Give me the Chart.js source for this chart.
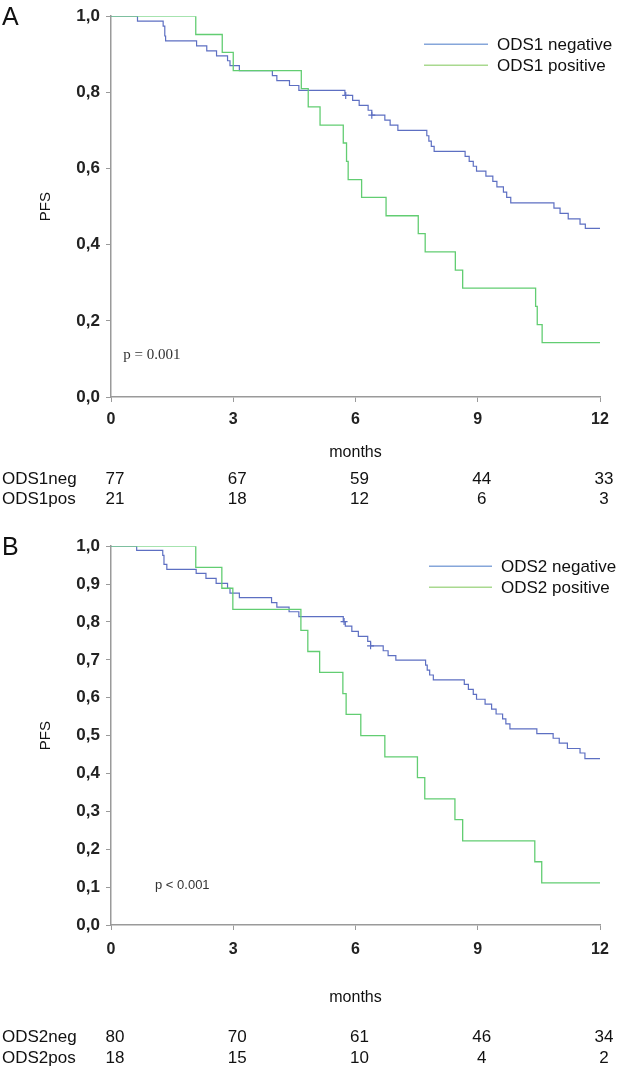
<!DOCTYPE html>
<html><head><meta charset="utf-8">
<script src="https://cdn.jsdelivr.net/npm/chart.js@4.4.0/dist/chart.umd.min.js"></script>
<style>
html,body{margin:0;padding:0;background:#fff;}
body{width:620px;height:1075px;position:relative;overflow:hidden;}
.panel{position:absolute;left:0;width:620px;}
#pa{top:0;height:530px;}
#pb{top:530px;height:545px;}
</style></head><body>
<div class="panel" id="pa"><canvas id="ca"></canvas></div>
<div class="panel" id="pb"><canvas id="cb"></canvas></div>
<script>
// ---------- data ----------
const monthTicks = [0, 3, 6, 9, 12];

// Panel A
const ods1NegTime = [0, 0.65, 1.28, 1.32, 1.34, 2.10, 2.35, 2.59, 2.86, 2.92, 3.15, 3.96, 4.07, 4.38, 4.61, 5.74, 5.93, 6.09, 6.31, 6.40, 6.72, 6.85, 7.04, 7.75, 7.80, 7.86, 7.93, 8.69, 8.79, 8.89, 8.97, 9.20, 9.37, 9.47, 9.63, 9.71, 9.81, 10.87, 11.02, 11.22, 11.51, 11.64, 12];
const ods1NegPFS  = [1, 0.987, 0.974, 0.948, 0.935, 0.922, 0.909, 0.896, 0.883, 0.870, 0.857, 0.844, 0.831, 0.818, 0.805, 0.792, 0.779, 0.766, 0.753, 0.740, 0.727, 0.714, 0.700, 0.686, 0.672, 0.658, 0.645, 0.632, 0.619, 0.606, 0.593, 0.580, 0.566, 0.552, 0.538, 0.524, 0.510, 0.496, 0.482, 0.468, 0.454, 0.443, 0.443];
const ods1PosTime = [0, 2.08, 2.73, 3.00, 4.67, 4.84, 5.13, 5.70, 5.78, 5.82, 6.15, 6.75, 7.54, 7.71, 8.45, 8.63, 10.42, 10.46, 10.58, 12];
const ods1PosPFS  = [1, 0.952, 0.905, 0.857, 0.810, 0.762, 0.714, 0.667, 0.619, 0.571, 0.524, 0.476, 0.429, 0.381, 0.333, 0.286, 0.238, 0.190, 0.143, 0.143];
const ods1NegCensorTime = [5.76, 6.40];
const ods1NegCensorPFS  = [0.792, 0.740];
const riskA_labels = ['ODS1neg', 'ODS1pos'];
const riskA_neg = [77, 67, 59, 44, 33];
const riskA_pos = [21, 18, 12, 6, 3];

// Panel B
const ods2NegTime = [0, 0.63, 1.27, 1.30, 1.37, 2.09, 2.33, 2.58, 2.86, 2.92, 3.15, 3.94, 4.07, 4.37, 4.61, 5.70, 5.75, 5.91, 6.07, 6.30, 6.37, 6.68, 6.80, 6.99, 7.72, 7.76, 7.82, 7.91, 8.67, 8.77, 8.89, 8.97, 9.18, 9.34, 9.45, 9.61, 9.69, 9.79, 10.45, 10.85, 11.00, 11.20, 11.51, 11.63, 12];
const ods2NegPFS  = [1, 0.989, 0.976, 0.952, 0.939, 0.928, 0.915, 0.902, 0.889, 0.876, 0.864, 0.851, 0.839, 0.827, 0.814, 0.801, 0.789, 0.775, 0.762, 0.749, 0.737, 0.724, 0.711, 0.699, 0.686, 0.673, 0.660, 0.647, 0.635, 0.622, 0.609, 0.596, 0.583, 0.570, 0.557, 0.544, 0.531, 0.518, 0.505, 0.493, 0.480, 0.466, 0.454, 0.439, 0.439];
const ods2PosTime = [0, 2.08, 2.72, 2.99, 4.66, 4.83, 5.12, 5.69, 5.77, 6.13, 6.72, 7.52, 7.70, 8.44, 8.63, 10.40, 10.57, 12];
const ods2PosPFS  = [1, 0.944, 0.889, 0.833, 0.778, 0.722, 0.667, 0.611, 0.556, 0.500, 0.444, 0.389, 0.333, 0.278, 0.222, 0.167, 0.111, 0.111];
const ods2NegCensorTime = [5.72, 6.37];
const ods2NegCensorPFS  = [0.801, 0.737];
const riskB_labels = ['ODS2neg', 'ODS2pos'];
const riskB_neg = [80, 70, 61, 46, 34];
const riskB_pos = [18, 15, 10, 4, 2];

// ---------- styling ----------
const FF = '"Liberation Sans", Arial, sans-serif';
const BLUE = '#5d6fc2';
const GREEN = '#62cd72';
const BLUE_LEG = '#86a6da';
const GREEN_LEG = '#a9d98f';
const AXIS = '#9a9a9a';

const pts = (t, v) => t.map((tt, i) => ({x: tt, y: v[i]}));

const extras = {
  id: 'extras',
  afterDraw(chart, args, o) {
    const {ctx, chartArea: ca, scales: {x, y}} = chart;
    ctx.save();
    ctx.textBaseline = 'middle';
    ctx.textAlign = 'left';
    ctx.fillStyle = '#111';
    ctx.font = '25px ' + FF;
    ctx.fillText(o.letter, 2, ca.top + 2);
    // legend
    ctx.font = '17px ' + FF;
    o.legend.forEach((it, i) => {
      const yy = ca.top + o.legendDY + i * 21;
      ctx.strokeStyle = it.color; ctx.lineWidth = 1.4;
      ctx.beginPath(); ctx.moveTo(o.legendX1, yy); ctx.lineTo(o.legendX2, yy); ctx.stroke();
      ctx.fillStyle = '#111';
      ctx.fillText(it.text, o.legendTX, yy + 1);
    });
    // p value
    ctx.font = o.pFont; ctx.fillStyle = '#333';
    ctx.fillText(o.pText, x.getPixelForValue(o.pAt[0]), y.getPixelForValue(o.pAt[1]));
    // number at risk
    ctx.font = '17px ' + FF; ctx.fillStyle = '#111';
    o.risk.forEach((row, i) => {
      const yy = ca.bottom + o.riskDY + i * o.riskGap;
      ctx.textAlign = 'left';
      ctx.fillText(row.label, 2, yy);
      ctx.textAlign = 'center';
      row.values.forEach((v, j) => ctx.fillText(String(v), x.getPixelForValue(monthTicks[j]) + 4, yy));
    });
    ctx.restore();
  }
};

function makeChart(id, cfg) {
  const datasets = [
    {label: cfg.negLabel, data: pts(cfg.negT, cfg.negV), borderColor: BLUE, borderWidth: 1.2, stepped: 'before', pointRadius: 0, fill: false, order: 2},
    {label: cfg.posLabel, data: pts(cfg.posT, cfg.posV), borderColor: GREEN, borderWidth: 1.3, stepped: 'before', pointRadius: 0, fill: false, order: 1},
    {label: 'censored', data: pts(cfg.cenT, cfg.cenV), showLine: false, pointStyle: 'cross', pointRadius: 3.5, borderColor: BLUE, borderWidth: 1.2, order: 0}
  ];
  return new Chart(document.getElementById(id), {
    type: 'line',
    data: {datasets},
    plugins: [extras],
    options: {
      responsive: true, maintainAspectRatio: false, animation: false,
      layout: {padding: {top: cfg.padTop, right: 20, left: 0, bottom: 0}},
      plugins: {
        legend: {display: false}, tooltip: {enabled: false},
        extras: cfg.extras
      },
      scales: {
        x: {
          type: 'linear', min: 0, max: 12,
          afterFit: s => { s.height = cfg.xHeight; },
          afterBuildTicks: s => { s.ticks = monthTicks.map(v => ({value: v})); },
          ticks: {color: '#222', font: {family: FF, size: 16, weight: 'bold'}, padding: cfg.xTickPad, maxRotation: 0},
          grid: {display: true, drawOnChartArea: false, drawTicks: true, tickLength: 5, color: AXIS, lineWidth: 1},
          border: {display: true, color: AXIS, width: 1.5},
          title: {display: true, text: 'months', color: '#111', font: {family: FF, size: 16}, padding: {top: 0, bottom: cfg.monthsPad}}
        },
        y: {
          min: 0, max: 1,
          afterFit: s => { s.width = 111; },
          afterBuildTicks: s => { s.ticks = cfg.yTicks.map(v => ({value: v})); },
          ticks: {color: '#222', font: {family: FF, size: 17, weight: 'bold'}, padding: 6,
                  callback: v => Number(v).toFixed(1).replace('.', ',')},
          grid: {display: true, drawOnChartArea: false, drawTicks: true, tickLength: 5, color: AXIS, lineWidth: 1},
          border: {display: true, color: AXIS, width: 1.5},
          title: {display: true, text: 'PFS', color: '#111', font: {family: FF, size: 15}, padding: {top: 37, bottom: 0}}
        }
      }
    }
  });
}

const yTicksA = [0, 0.2, 0.4, 0.6, 0.8, 1.0];
const yTicksB = [0, 0.1, 0.2, 0.3, 0.4, 0.5, 0.6, 0.7, 0.8, 0.9, 1.0];

makeChart('ca', {
  negLabel: 'ODS1 negative', posLabel: 'ODS1 positive',
  negT: ods1NegTime, negV: ods1NegPFS, posT: ods1PosTime, posV: ods1PosPFS,
  cenT: ods1NegCensorTime, cenV: ods1NegCensorPFS,
  padTop: 15, xHeight: 133, monthsPad: 68, yTicks: yTicksA, xTickPad: 8,
  extras: {
    letter: 'A',
    legend: [{text: 'ODS1 negative', color: BLUE_LEG}, {text: 'ODS1 positive', color: GREEN_LEG}],
    legendDY: 28, legendX1: 424, legendX2: 488, legendTX: 497,
    pText: 'p = 0.001', pFont: '15px "Liberation Serif", "Times New Roman", serif', pAt: [0.3, 0.11],
    risk: [{label: riskA_labels[0], values: riskA_neg}, {label: riskA_labels[1], values: riskA_pos}],
    riskDY: 82, riskGap: 20
  }
});

makeChart('cb', {
  negLabel: 'ODS2 negative', posLabel: 'ODS2 positive',
  negT: ods2NegTime, negV: ods2NegPFS, posT: ods2PosTime, posV: ods2PosPFS,
  cenT: ods2NegCensorTime, cenV: ods2NegCensorPFS,
  padTop: 15, xHeight: 150, monthsPad: 68, yTicks: yTicksB, xTickPad: 10,
  extras: {
    letter: 'B',
    legend: [{text: 'ODS2 negative', color: BLUE_LEG}, {text: 'ODS2 positive', color: GREEN_LEG}],
    legendDY: 20, legendX1: 429, legendX2: 492, legendTX: 501,
    pText: 'p < 0.001', pFont: '13px ' + FF, pAt: [1.08, 0.105],
    risk: [{label: riskB_labels[0], values: riskB_neg}, {label: riskB_labels[1], values: riskB_pos}],
    riskDY: 112, riskGap: 21
  }
});
</script>
</body></html>
